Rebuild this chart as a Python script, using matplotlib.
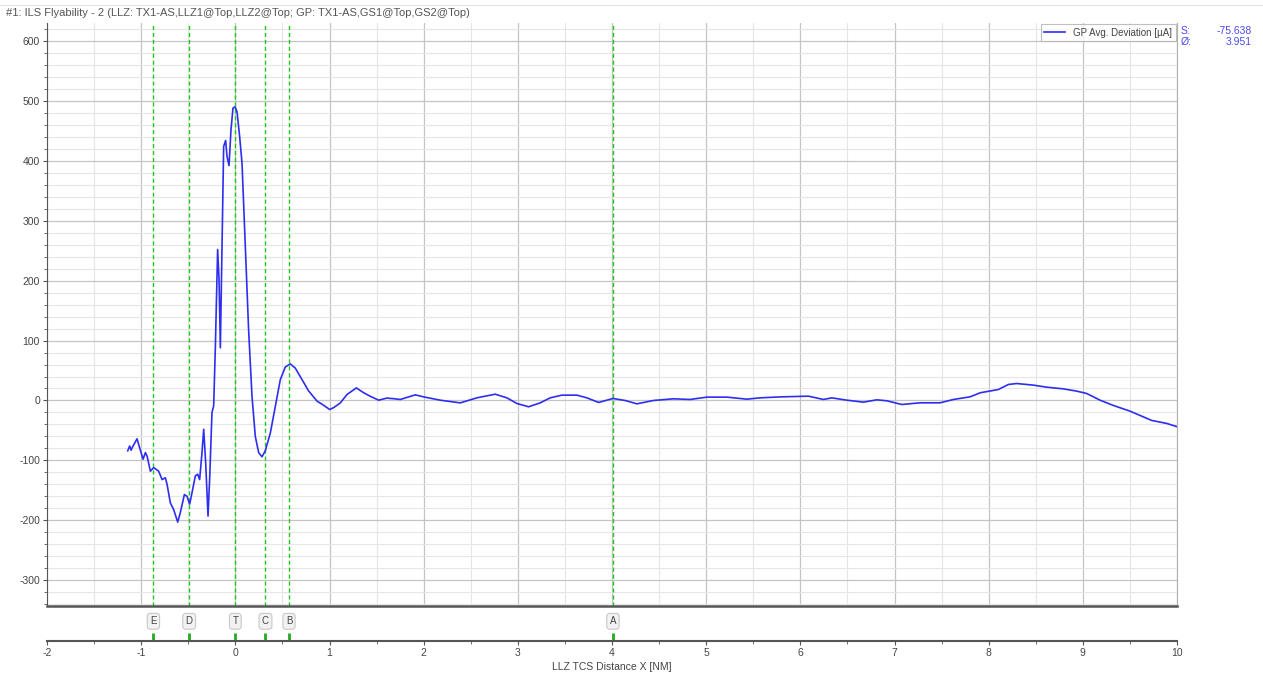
import numpy as np
import matplotlib
matplotlib.use('Agg')
import matplotlib.pyplot as plt
from matplotlib.ticker import MultipleLocator

plt.rcParams['font.family'] = ['Liberation Sans', 'DejaVu Sans']

# GP deviation trace (x in NM, y in uA)
dist_nm = [-1.143, -1.122, -1.107, -1.093, -1.044, -1.016, -0.98, -0.955, -0.937, -0.902,
           -0.867, -0.814, -0.778, -0.743, -0.725, -0.69, -0.655, -0.612, -0.584, -0.541,
           -0.513, -0.485, -0.46, -0.425, -0.4, -0.379, -0.354, -0.336, -0.315, -0.29,
           -0.273, -0.248, -0.23, -0.212, -0.188, -0.173, -0.159, -0.141, -0.124, -0.103,
           -0.088, -0.067, -0.046, -0.025, -0.003, 0.018, 0.046, 0.071, 0.106, 0.141,
           0.177, 0.212, 0.248, 0.283, 0.318, 0.372, 0.425, 0.478, 0.531, 0.584,
           0.637, 0.708, 0.778, 0.867, 0.938, 1.001, 1.044, 1.115, 1.186, 1.285,
           1.362, 1.433, 1.522, 1.61, 1.68, 1.752, 1.911, 2.0, 2.176, 2.389,
           2.565, 2.76, 2.884, 2.99, 3.114, 3.238, 3.344, 3.468, 3.627, 3.734,
           3.857, 4.01, 4.14, 4.264, 4.44, 4.653, 4.83, 5.007, 5.22, 5.432,
           5.573, 5.786, 6.086, 6.245, 6.334, 6.494, 6.67, 6.812, 6.918, 7.077,
           7.272, 7.484, 7.626, 7.803, 7.909, 8.103, 8.209, 8.298, 8.475, 8.617,
           8.793, 8.935, 9.041, 9.183, 9.324, 9.501, 9.607, 9.731, 9.89, 10.013]
gp_dev = [-84, -76, -83, -78, -64, -79, -98, -87, -93, -118,
          -112, -118, -132, -129, -140, -171, -182, -203, -187, -157,
          -160, -173, -154, -126, -123, -132, -87, -48, -104, -193,
          -132, -20, -9, 90, 252, 202, 88, 257, 424, 434,
          407, 392, 452, 488, 490, 482, 440, 396, 257, 118,
          7, -60, -87, -94, -84, -54, -9, 35, 56, 61,
          54, 35, 16, -1, -8, -15, -12, -4, 10, 21,
          13, 7, 0.5, 4, 3, 1.7, 9.4, 6, 0.5, -4,
          4.4, 10.5, 4.4, -5, -10.5, -4, 4.4, 8.9, 8.9, 4.4,
          -3.3, 3.3, 0, -5.6, 0, 2.8, 1.7, 5.6, 5.6, 2.2,
          4.4, 6, 7.2, 1.7, 4.4, 0.5, -2.8, 1.1, -0.5, -6.7,
          -3.9, -3.9, 1.7, 6.1, 12.8, 18.3, 26.7, 28.3, 25.6, 22.2,
          19.4, 15.6, 11.7, 0.5, -8.3, -17.8, -25, -33.3, -38.3, -44.4]

# event markers on the approach
marker_names = ['E', 'D', 'T', 'C', 'B', 'A']
marker_pos = [-0.87, -0.49, 0.0, 0.32, 0.57, 4.01]

stat_names = ['S:', 'Ø:']
stat_vals = ['-75.638', '3.951']

title = '#1: ILS Flyability - 2 (LLZ: TX1-AS,LLZ1@Top,LLZ2@Top; GP: TX1-AS,GS1@Top,GS2@Top)'

W, H = 1263, 673
fig = plt.figure(figsize=(W / 100, H / 100), dpi=100)

def fx(px):
    return px / W

def fy(py):
    return 1 - py / H

line_col = '#2e2ef0'
green = '#1ec81e'
txt_col = '#444444'

# main plot
ax = fig.add_axes([fx(47), fy(606), fx(1177 - 47), (606 - 23) / H])
ax.plot(dist_nm, gp_dev, color=line_col, lw=1.2, label='GP Avg. Deviation [µA]', zorder=3)
for p in marker_pos:
    ax.axvline(p, color=green, lw=1.0, ls=(0, (3, 2)), zorder=2)

ax.set_xlim(-2, 10)
ax.set_ylim(-343, 630)
ax.xaxis.set_major_locator(MultipleLocator(1))
ax.xaxis.set_minor_locator(MultipleLocator(0.5))
ax.yaxis.set_major_locator(MultipleLocator(100))
ax.yaxis.set_minor_locator(MultipleLocator(20))
ax.grid(which='major', color='#c4c4c4', lw=0.9)
ax.grid(which='minor', color='#e6e6e6', lw=0.8)
ax.set_axisbelow(True)
ax.tick_params(axis='x', which='both', bottom=False, labelbottom=False)
ax.tick_params(axis='y', which='major', length=3, width=0.8, color='#555555',
               labelsize=7.5, labelcolor=txt_col, pad=2)
ax.tick_params(axis='y', which='minor', length=2, width=0.6, color='#555555')
ax.yaxis.set_major_formatter(matplotlib.ticker.FuncFormatter(lambda v, p: '%d' % v))
ax.spines['top'].set_visible(False)
ax.spines['right'].set_color('#b0b0b0')
ax.spines['left'].set_color('#555555')
ax.spines['bottom'].set_color('#555555')
ax.spines['bottom'].set_linewidth(1.8)

leg = ax.legend(loc='upper right', fontsize=7, frameon=True, fancybox=False,
                borderaxespad=0.15, handlelength=2.2, borderpad=0.35)
leg.get_frame().set_edgecolor('#b0b0b0')
leg.get_frame().set_linewidth(0.8)
for t in leg.get_texts():
    t.set_color(txt_col)

# stats right of plot
for i in range(len(stat_names)):
    fig.text(fx(1181), fy(31 + i * 11), stat_names[i], fontsize=7.5, color='#4a4af0', va='center')
    fig.text(fx(1252), fy(31 + i * 11), stat_vals[i], fontsize=7.5, color='#4a4af0',
             va='center', ha='right')

# separate distance scale with marker flags
ax2 = fig.add_axes([fx(47), fy(641), fx(1177 - 47), (641 - 612) / H])
ax2.set_xlim(-2, 10)
ax2.set_ylim(0, 1)
ax2.patch.set_visible(False)
for s in ['top', 'left', 'right']:
    ax2.spines[s].set_visible(False)
ax2.spines['bottom'].set_color('#555555')
ax2.spines['bottom'].set_linewidth(1.5)
ax2.set_yticks([])
ax2.xaxis.set_major_locator(MultipleLocator(1))
ax2.xaxis.set_minor_locator(MultipleLocator(0.5))
ax2.xaxis.set_major_formatter(matplotlib.ticker.FuncFormatter(lambda v, p: '%d' % v))
ax2.tick_params(axis='x', which='major', length=3, width=0.8, color='#555555',
                labelsize=7.5, labelcolor=txt_col, pad=2)
ax2.tick_params(axis='x', which='minor', length=2, width=0.6, color='#555555')
ax2.set_xlabel('LLZ TCS Distance X [NM]', fontsize=7.5, color=txt_col, labelpad=3)
for name, p in zip(marker_names, marker_pos):
    ax2.plot([p, p], [0, 0.27], color='#22aa22', lw=2, solid_capstyle='butt', clip_on=False)
    ax2.text(p, 0.68, name, fontsize=7, color=txt_col, ha='center', va='center',
             bbox=dict(boxstyle='round,pad=0.3', fc='#f2f2f2', ec='#c8c8c8', lw=0.8))

# header
fig.text(fx(6), fy(13), title, fontsize=8, color='#555555', va='center')
fig.add_artist(plt.Line2D([0, 1], [fy(5), fy(5)], color='#e4e4e4', lw=0.8))

fig.savefig('out.png', dpi=100)
